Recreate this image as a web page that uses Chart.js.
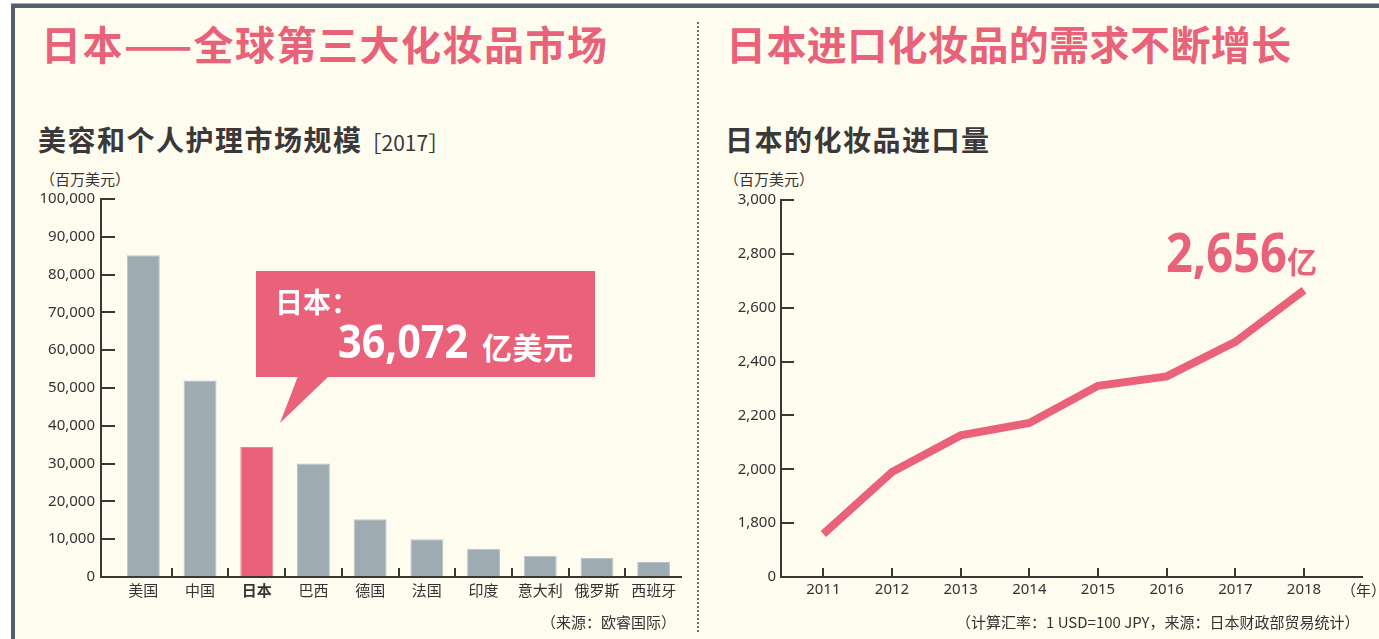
<!DOCTYPE html>
<html>
<head>
<meta charset="utf-8">
<script src="https://cdn.jsdelivr.net/npm/chart.js@4/dist/chart.umd.min.js"></script>
<style>
html,body{margin:0;padding:0;width:1379px;height:639px;overflow:hidden;background:#ffffff;}
body{position:relative;font-family:"Noto Sans CJK SC","Noto Sans",sans-serif;}
#frame{position:absolute;left:11px;top:4px;width:1380px;height:650px;background:#fefcef;border-top:4px solid #56606a;border-left:4px solid #56606a;box-shadow:0 -1px 0 #a9b0b5;}
.t{position:absolute;white-space:nowrap;line-height:1;}
.title{font-size:40px;font-weight:bold;color:#e8627a;letter-spacing:0.4px;top:23px;}
.sub{font-size:28px;font-weight:bold;color:#3a3838;letter-spacing:1.5px;top:125px;}
.unit{font-size:15px;color:#333;top:171px;}
.note{font-size:15px;color:#333;top:614px;}
#divider{position:absolute;left:697px;top:22px;height:610px;border-left:2px dotted #6e6e6e;}
#box{position:absolute;left:256px;top:271px;width:339px;height:106px;background:#e9627a;}
#tail{position:absolute;left:270px;top:376px;width:70px;height:50px;background:#e9627a;clip-path:polygon(28px 0,59px 0,10px 47px);}
.num{font-family:"Noto Sans","Noto Sans CJK SC",sans-serif;font-weight:bold;transform-origin:0 0;}
canvas{position:absolute;top:0;}
</style>
</head>
<body>
<div id="frame"></div>
<div id="divider"></div>

<div class="t title" style="left:41px;letter-spacing:1.5px;">日本——全球第三大化妆品市场</div>
<div class="t title" style="left:726px;">日本进口化妆品的需求不断增长</div>

<div class="t sub" style="left:38px;">美容和个人护理市场规模<span style="font-size:21px;font-weight:normal;letter-spacing:0;margin-left:-2px;">［2017］</span></div>
<div class="t sub" style="left:725px;">日本的化妆品进口量</div>

<div class="t unit" style="left:40px;">（百万美元）</div>
<div class="t unit" style="left:724px;">（百万美元）</div>

<canvas id="left" width="690" height="639" style="left:0;width:690px;height:639px;"></canvas>
<canvas id="right" width="689" height="639" style="left:690px;width:689px;height:639px;"></canvas>

<div id="box"></div>
<div id="tail"></div>
<div class="t" style="left:275px;top:287px;font-size:28px;font-weight:bold;color:#fff;">日本：</div>
<div class="t num" style="left:338px;top:317px;font-size:46px;color:#fff;transform:scaleX(0.9);">36,072</div>
<div class="t" style="left:482px;top:331px;font-size:30px;font-weight:bold;color:#fff;letter-spacing:0.5px;">亿美元</div>

<div class="t num" style="left:1166px;top:224px;font-size:54px;color:#e8627a;transform:scaleX(0.87);">2,656</div>
<div class="t" style="left:1287px;top:245px;font-size:30px;font-weight:bold;color:#e8627a;">亿</div>

<div class="t unit" style="left:1341px;top:582px;">（年）</div>
<div class="t note" style="left:541px;">（来源：欧睿国际）</div>
<div class="t note" style="left:956px;">（计算汇率：1 USD=100 JPY，来源：日本财政部贸易统计）</div>

<script>
// ---------- data ----------
const categories = ['美国', '中国', '日本', '巴西', '德国', '法国', '印度', '意大利', '俄罗斯', '西班牙'];
const marketSize = [85100, 52000, 34400, 30000, 15300, 10000, 7500, 5600, 5000, 4000];
const leftTickValues = [0, 10000, 20000, 30000, 40000, 50000, 60000, 70000, 80000, 90000, 100000];

const years = [2011, 2012, 2013, 2014, 2015, 2016, 2017, 2018];
const imports = [1760, 1990, 2126, 2172, 2310, 2345, 2473, 2665];
const rightTickValues = [1600, 1800, 2000, 2200, 2400, 2600, 2800, 3000];
const rightTickLabels = ['0', '1,800', '2,000', '2,200', '2,400', '2,600', '2,800', '3,000'];
// ---------------------------

const PINK = '#e9627a';
const GRAY = '#9eabb3';
const AXIS = '#3b3633';
const TXT = '#333333';
const NUMFONT = "'Noto Sans', 'Noto Sans CJK SC', sans-serif";
const CJKFONT = "'Noto Sans CJK SC', 'Noto Sans', sans-serif";

Chart.defaults.font.family = NUMFONT;

const leftAxes = {
  id: 'leftAxes',
  afterDraw(chart) {
    const {ctx, chartArea: a, scales: {x}} = chart;
    const x0 = a.left - 14;
    ctx.save();
    ctx.strokeStyle = AXIS;
    ctx.lineWidth = 2;
    ctx.beginPath();
    ctx.moveTo(x0, a.top - 1);
    ctx.lineTo(x0, a.bottom);
    ctx.lineTo(a.right, a.bottom);
    ctx.stroke();
    for (let i = 1; i < categories.length; i++) {
      const px = Math.round((x.getPixelForValue(i - 1) + x.getPixelForValue(i)) / 2);
      ctx.beginPath();
      ctx.moveTo(px, a.bottom);
      ctx.lineTo(px, a.bottom - 9);
      ctx.stroke();
    }
    ctx.restore();
  }
};

new Chart(document.getElementById('left'), {
  type: 'bar',
  data: {
    labels: categories,
    datasets: [{
      data: marketSize,
      backgroundColor: categories.map(c => c === '日本' ? PINK : GRAY),
      borderColor: categories.map(c => c === '日本' ? '#ee8294' : '#b9c4ca'),
      borderWidth: 1,
      barPercentage: 0.58,
      categoryPercentage: 1
    }]
  },
  options: {
    responsive: false,
    animation: false,
    devicePixelRatio: 1,
    layout: {padding: {left: 0, top: 199, right: 8, bottom: 32}},
    plugins: {legend: {display: false}, tooltip: {enabled: false}},
    scales: {
      x: {
        offset: true,
        grid: {display: false, drawTicks: false},
        border: {display: false},
        ticks: {
          padding: 4,
          color: TXT,
          maxRotation: 0,
          autoSkip: false,
          font: c => ({family: CJKFONT, size: 15, weight: c.index === 2 ? 'bold' : 'normal'})
        },
        afterFit: s => { s.height = 30; }
      },
      y: {
        min: 0,
        max: 100000,
        afterBuildTicks: s => { s.ticks = leftTickValues.map(v => ({value: v})); },
        grid: {drawOnChartArea: false, drawTicks: true, tickLength: 14, color: AXIS, lineWidth: 2},
        border: {display: false},
        ticks: {padding: 6, color: TXT, font: {size: 15}, callback: v => v.toLocaleString('en-US')},
        afterFit: s => { s.width = 115; }
      }
    }
  },
  plugins: [leftAxes]
});

const rightAxes = {
  id: 'rightAxes',
  afterDraw(chart) {
    const {ctx, chartArea: a, scales: {x}} = chart;
    const x0 = a.left - 13;
    ctx.save();
    ctx.strokeStyle = AXIS;
    ctx.lineWidth = 2;
    ctx.beginPath();
    ctx.moveTo(x0, a.top - 1);
    ctx.lineTo(x0, a.bottom);
    ctx.lineTo(a.right, a.bottom);
    ctx.stroke();
    years.forEach(yr => {
      const px = Math.round(x.getPixelForValue(yr));
      ctx.beginPath();
      ctx.moveTo(px, a.bottom);
      ctx.lineTo(px, a.bottom - 9);
      ctx.stroke();
    });
    ctx.restore();
  }
};

new Chart(document.getElementById('right'), {
  type: 'line',
  data: {
    datasets: [{
      data: years.map((yr, i) => ({x: yr, y: imports[i]})),
      borderColor: PINK,
      borderWidth: 8,
      pointRadius: 0,
      tension: 0,
      fill: false,
      borderCapStyle: 'butt',
      borderJoinStyle: 'miter'
    }]
  },
  options: {
    responsive: false,
    animation: false,
    devicePixelRatio: 1,
    layout: {padding: {left: 0, top: 200, right: 16, bottom: 32}},
    plugins: {legend: {display: false}, tooltip: {enabled: false}},
    scales: {
      x: {
        type: 'linear',
        min: 2010.573,
        max: 2018.859,
        afterBuildTicks: s => { s.ticks = years.map(v => ({value: v})); },
        grid: {display: false, drawTicks: false},
        border: {display: false},
        ticks: {padding: 4, color: TXT, maxRotation: 0, autoSkip: false, font: {size: 15}, callback: v => String(v)},
        afterFit: s => { s.height = 30; }
      },
      y: {
        min: 1600,
        max: 3000,
        afterBuildTicks: s => { s.ticks = rightTickValues.map(v => ({value: v})); },
        grid: {drawOnChartArea: false, drawTicks: true, tickLength: 13, color: AXIS, lineWidth: 2},
        border: {display: false},
        ticks: {padding: 5, color: TXT, font: {size: 15}, callback: (v, i) => rightTickLabels[i]},
        afterFit: s => { s.width = 104; }
      }
    }
  },
  plugins: [rightAxes]
});
</script>
</body>
</html>
